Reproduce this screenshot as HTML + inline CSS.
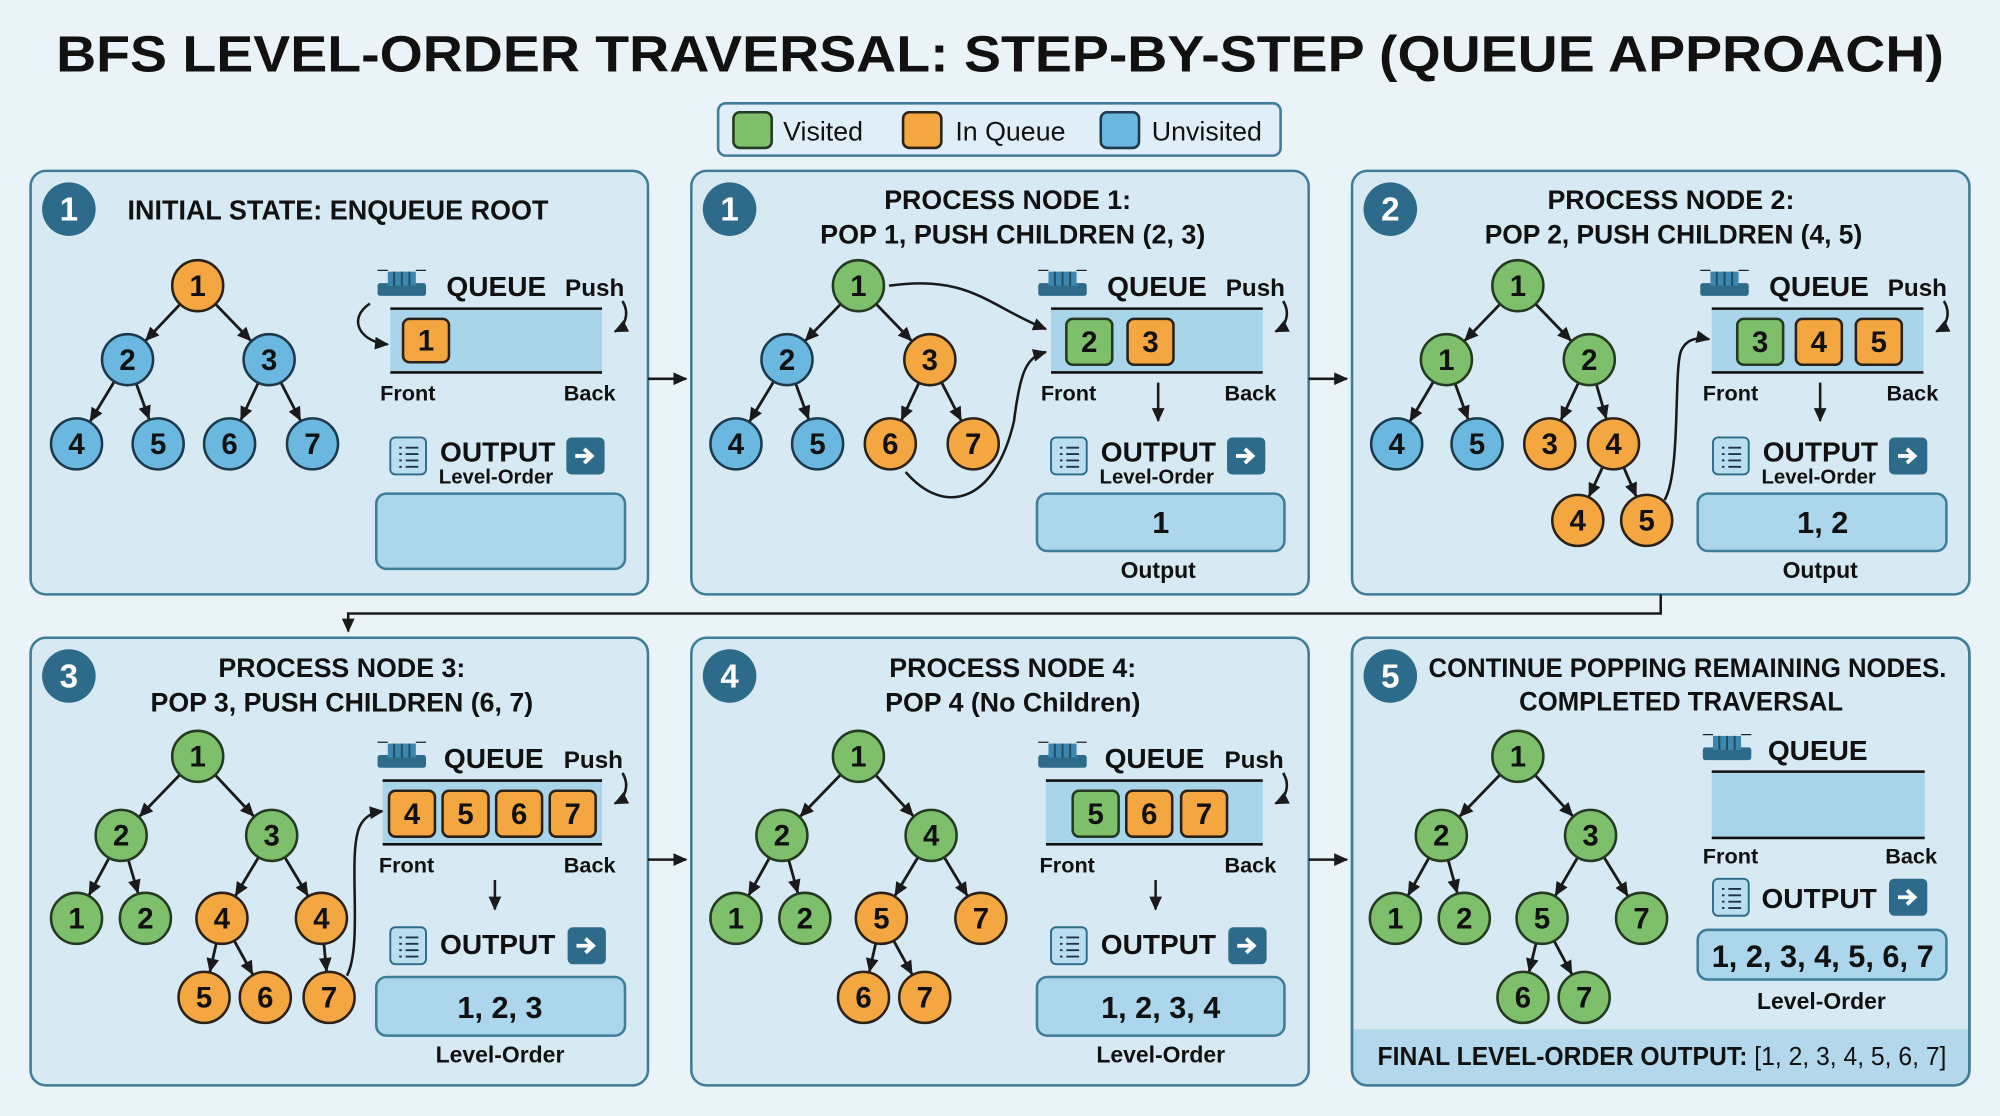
<!DOCTYPE html>
<html><head><meta charset="utf-8"><style>
html,body{margin:0;padding:0;background:#eaf3f8}
svg{display:block}
text{font-family:"Liberation Sans",sans-serif;fill:#111}
.b{font-weight:bold}
.g{fill:#7dbf6a;stroke:#243a22;stroke-width:2}
.o{fill:#f4a640;stroke:#2a2218;stroke-width:2}
.u{fill:#6ab7e0;stroke:#1c3a4c;stroke-width:2}
.nt{font-size:23px;font-weight:bold;text-anchor:middle}
.e path{stroke:#1a1a1a;stroke-width:2.2;fill:none;marker-end:url(#ah)}
.ln{stroke:#1a1a1a;stroke-width:2;fill:none;marker-end:url(#a2)}
.pn{fill:#d7eaf4;stroke:#3f7d98;stroke-width:2}
.qb{fill:#a9d5eb}
.ob{fill:#abd6eb;stroke:#3f7d98;stroke-width:2}
.bd{fill:#2e6a8a}
</style></head><body>
<svg width="2000" height="1116" viewBox="0 0 1568 875" preserveAspectRatio="none" xmlns="http://www.w3.org/2000/svg">
<defs>
<marker id="ah" markerUnits="userSpaceOnUse" markerWidth="12" markerHeight="12" refX="31" refY="5" orient="auto" overflow="visible"><path d="M0,0 L11,5 L0,10 z" fill="#1a1a1a"/></marker>
<marker id="a2" markerUnits="userSpaceOnUse" markerWidth="12" markerHeight="12" refX="10" refY="5" orient="auto" overflow="visible"><path d="M0,0 L11,5 L0,10 z" fill="#1a1a1a"/></marker>
<g id="qi"><rect x="0" y="12" width="38" height="10" rx="2" fill="#2e6a8a"/><rect x="8" y="3" width="22" height="11" fill="#3d86ad"/><path d="M13,3v11M19,3v11M25,3v11" stroke="#1d4d66" stroke-width="1.5"/><path d="M0,2h8M30,2h8" stroke="#222" stroke-width="1"/></g>
<g id="oi"><rect x="0" y="0" width="28" height="29" rx="4" fill="#b9def0" stroke="#2e6a8a" stroke-width="1.5"/><path d="M7,8h2M12,8h10M7,13h2M12,13h10M7,18h2M12,18h10M7,23h2M12,23h10" stroke="#234" stroke-width="1.5"/></g>
<g id="ab"><rect x="0" y="0" width="30" height="29" rx="4" fill="#2e6a8a"/><path d="M7,14.5h11M14,9l6,5.5l-6,5.5" stroke="#fff" stroke-width="3" fill="none"/></g>
</defs>
<rect width="1568" height="875" fill="#eaf3f8"/>
<text x="784" y="56" class="b" font-size="40" text-anchor="middle" textLength="1480" lengthAdjust="spacingAndGlyphs">BFS LEVEL-ORDER TRAVERSAL: STEP-BY-STEP (QUEUE APPROACH)</text>
<!-- legend -->
<rect x="563" y="81" width="441" height="41" rx="6" fill="#e0eff7" stroke="#3f7d98" stroke-width="2"/>
<rect x="575" y="88" width="30" height="28" rx="5" class="g"/><text x="614" y="110" font-size="21">Visited</text>
<rect x="708" y="88" width="30" height="28" rx="5" class="o"/><text x="749" y="110" font-size="21">In Queue</text>
<rect x="863" y="88" width="30" height="28" rx="5" class="u"/><text x="903" y="110" font-size="21">Unvisited</text>
<!-- panels -->
<rect x="24" y="134" width="484" height="332" rx="12" class="pn"/>
<rect x="542" y="134" width="484" height="332" rx="12" class="pn"/>
<rect x="1060" y="134" width="484" height="332" rx="12" class="pn"/>
<rect x="24" y="500" width="484" height="351" rx="12" class="pn"/>
<rect x="542" y="500" width="484" height="351" rx="12" class="pn"/>
<rect x="1060" y="500" width="484" height="351" rx="12" class="pn"/>
<!-- between arrows -->
<path d="M508,297H538" class="ln"/><path d="M1026,297H1056" class="ln"/>
<path d="M508,674H538" class="ln"/><path d="M1026,674H1056" class="ln"/>
<path d="M1302,466V481H273V495" class="ln"/>

<!-- PANEL 1 -->
<circle cx="54" cy="164" r="21" class="bd"/><text x="54" y="173" style="fill:#fff" font-size="26" text-anchor="middle" class="b">1</text>
<text x="100" y="172" class="b" font-size="22" textLength="330" lengthAdjust="spacingAndGlyphs">INITIAL STATE: ENQUEUE ROOT</text>
<g class="e"><path d="M155,224L100,282"/><path d="M155,224L211,282"/><path d="M100,282L60,348"/><path d="M100,282L124,348"/><path d="M211,282L180,348"/><path d="M211,282L245,348"/></g>
<circle cx="155" cy="224" r="20" class="o"/><text x="155" y="232" class="nt">1</text>
<circle cx="100" cy="282" r="20" class="u"/><text x="100" y="290" class="nt">2</text>
<circle cx="211" cy="282" r="20" class="u"/><text x="211" y="290" class="nt">3</text>
<circle cx="60" cy="348" r="20" class="u"/><text x="60" y="356" class="nt">4</text>
<circle cx="124" cy="348" r="20" class="u"/><text x="124" y="356" class="nt">5</text>
<circle cx="180" cy="348" r="20" class="u"/><text x="180" y="356" class="nt">6</text>
<circle cx="245" cy="348" r="20" class="u"/><text x="245" y="356" class="nt">7</text>
<use href="#qi" x="296" y="210"/>
<text x="350" y="232" class="b" font-size="22">QUEUE</text><text x="443" y="232" class="b" font-size="19">Push</text>
<rect x="306" y="242" width="166" height="50" class="qb"/><path d="M306,242H472M306,292H472" stroke="#111" stroke-width="2"/>
<rect x="316" y="250" width="36" height="34" rx="5" class="o"/><text x="334" y="275" class="nt">1</text>
<path d="M290,238C272,250 282,268 304,270" class="ln"/><path d="M488,236C494,246 490,256 482,260" class="ln"/>
<text x="298" y="314" class="b" font-size="17">Front</text><text x="442" y="314" class="b" font-size="17">Back</text>
<use href="#oi" x="306" y="343"/>
<text x="345" y="362" class="b" font-size="22">OUTPUT</text><text x="344" y="379" class="b" font-size="16">Level-Order</text>
<use href="#ab" x="444" y="343"/>
<rect x="295" y="387" width="195" height="59" rx="8" class="ob"/>

<!-- PANEL 2 -->
<circle cx="572" cy="164" r="21" class="bd"/><text x="572" y="173" style="fill:#fff" font-size="26" text-anchor="middle" class="b">1</text>
<text x="790" y="164" class="b" font-size="21" text-anchor="middle">PROCESS NODE 1:</text>
<text x="794" y="191" class="b" font-size="21" text-anchor="middle" textLength="302" lengthAdjust="spacingAndGlyphs">POP 1, PUSH CHILDREN (2, 3)</text>
<g class="e"><path d="M673,224L617,282"/><path d="M673,224L729,282"/><path d="M617,282L577,348"/><path d="M617,282L641,348"/><path d="M729,282L698,348"/><path d="M729,282L763,348"/></g>
<path d="M697,224C760,215 775,240 820,258" class="ln"/>
<path d="M710,370C740,405 780,395 795,330C800,290 805,280 820,276" class="ln"/>
<circle cx="673" cy="224" r="20" class="g"/><text x="673" y="232" class="nt">1</text>
<circle cx="617" cy="282" r="20" class="u"/><text x="617" y="290" class="nt">2</text>
<circle cx="729" cy="282" r="20" class="o"/><text x="729" y="290" class="nt">3</text>
<circle cx="577" cy="348" r="20" class="u"/><text x="577" y="356" class="nt">4</text>
<circle cx="641" cy="348" r="20" class="u"/><text x="641" y="356" class="nt">5</text>
<circle cx="698" cy="348" r="20" class="o"/><text x="698" y="356" class="nt">6</text>
<circle cx="763" cy="348" r="20" class="o"/><text x="763" y="356" class="nt">7</text>
<use href="#qi" x="814" y="210"/>
<text x="868" y="232" class="b" font-size="22">QUEUE</text><text x="961" y="232" class="b" font-size="19">Push</text>
<rect x="824" y="242" width="166" height="50" class="qb"/><path d="M824,242H990M824,292H990" stroke="#111" stroke-width="2"/>
<rect x="836" y="250" width="36" height="36" rx="5" class="g"/><text x="854" y="276" class="nt">2</text>
<rect x="884" y="250" width="36" height="36" rx="5" class="o"/><text x="902" y="276" class="nt">3</text>
<path d="M1006,236C1012,246 1008,256 1000,260" class="ln"/>
<text x="816" y="314" class="b" font-size="17">Front</text><text x="960" y="314" class="b" font-size="17">Back</text>
<path d="M908,300V330" class="ln"/>
<use href="#oi" x="824" y="343"/>
<text x="863" y="362" class="b" font-size="22">OUTPUT</text><text x="862" y="379" class="b" font-size="16">Level-Order</text>
<use href="#ab" x="962" y="343"/>
<rect x="813" y="387" width="194" height="45" rx="8" class="ob"/>
<text x="910" y="418" class="b" font-size="24" text-anchor="middle">1</text>
<text x="908" y="453" class="b" font-size="18" text-anchor="middle">Output</text>

<!-- PANEL 3 -->
<circle cx="1090" cy="164" r="21" class="bd"/><text x="1090" y="173" style="fill:#fff" font-size="26" text-anchor="middle" class="b">2</text>
<text x="1310" y="164" class="b" font-size="21" text-anchor="middle">PROCESS NODE 2:</text>
<text x="1312" y="191" class="b" font-size="21" text-anchor="middle" textLength="296" lengthAdjust="spacingAndGlyphs">POP 2, PUSH CHILDREN (4, 5)</text>
<g class="e"><path d="M1190,224L1134,282"/><path d="M1190,224L1246,282"/><path d="M1134,282L1095,348"/><path d="M1134,282L1158,348"/><path d="M1246,282L1215,348"/><path d="M1246,282L1265,348"/><path d="M1265,348L1237,408"/><path d="M1265,348L1291,408"/></g>
<path d="M1305,392C1318,370 1312,290 1318,275C1322,266 1330,264 1340,266" class="ln"/>
<circle cx="1190" cy="224" r="20" class="g"/><text x="1190" y="232" class="nt">1</text>
<circle cx="1134" cy="282" r="20" class="g"/><text x="1134" y="290" class="nt">1</text>
<circle cx="1246" cy="282" r="20" class="g"/><text x="1246" y="290" class="nt">2</text>
<circle cx="1095" cy="348" r="20" class="u"/><text x="1095" y="356" class="nt">4</text>
<circle cx="1158" cy="348" r="20" class="u"/><text x="1158" y="356" class="nt">5</text>
<circle cx="1215" cy="348" r="20" class="o"/><text x="1215" y="356" class="nt">3</text>
<circle cx="1265" cy="348" r="20" class="o"/><text x="1265" y="356" class="nt">4</text>
<circle cx="1237" cy="408" r="20" class="o"/><text x="1237" y="416" class="nt">4</text>
<circle cx="1291" cy="408" r="20" class="o"/><text x="1291" y="416" class="nt">5</text>
<use href="#qi" x="1333" y="210"/>
<text x="1387" y="232" class="b" font-size="22">QUEUE</text><text x="1480" y="232" class="b" font-size="19">Push</text>
<rect x="1342" y="242" width="166" height="50" class="qb"/><path d="M1342,242H1508M1342,292H1508" stroke="#111" stroke-width="2"/>
<rect x="1362" y="250" width="36" height="36" rx="5" class="g"/><text x="1380" y="276" class="nt">3</text>
<rect x="1408" y="250" width="36" height="36" rx="5" class="o"/><text x="1426" y="276" class="nt">4</text>
<rect x="1455" y="250" width="36" height="36" rx="5" class="o"/><text x="1473" y="276" class="nt">5</text>
<path d="M1524,236C1530,246 1526,256 1518,260" class="ln"/>
<text x="1335" y="314" class="b" font-size="17">Front</text><text x="1479" y="314" class="b" font-size="17">Back</text>
<path d="M1427,300V330" class="ln"/>
<use href="#oi" x="1343" y="343"/>
<text x="1382" y="362" class="b" font-size="22">OUTPUT</text><text x="1381" y="379" class="b" font-size="16">Level-Order</text>
<use href="#ab" x="1481" y="343"/>
<rect x="1331" y="387" width="195" height="45" rx="8" class="ob"/>
<text x="1429" y="418" class="b" font-size="24" text-anchor="middle">1, 2</text>
<text x="1427" y="453" class="b" font-size="18" text-anchor="middle">Output</text>

<!-- PANEL 4 -->
<circle cx="54" cy="530" r="21" class="bd"/><text x="54" y="539" style="fill:#fff" font-size="26" text-anchor="middle" class="b">3</text>
<text x="268" y="531" class="b" font-size="21" text-anchor="middle">PROCESS NODE 3:</text>
<text x="268" y="558" class="b" font-size="21" text-anchor="middle" textLength="300" lengthAdjust="spacingAndGlyphs">POP 3, PUSH CHILDREN (6, 7)</text>
<g class="e"><path d="M155,593L95,655"/><path d="M155,593L213,655"/><path d="M95,655L60,720"/><path d="M95,655L114,720"/><path d="M213,655L174,720"/><path d="M213,655L252,720"/><path d="M174,720L160,782"/><path d="M174,720L208,782"/><path d="M252,720L258,782"/></g>
<path d="M272,765C285,740 272,670 282,648C286,640 292,637 300,636" class="ln"/>
<circle cx="155" cy="593" r="20" class="g"/><text x="155" y="601" class="nt">1</text>
<circle cx="95" cy="655" r="20" class="g"/><text x="95" y="663" class="nt">2</text>
<circle cx="213" cy="655" r="20" class="g"/><text x="213" y="663" class="nt">3</text>
<circle cx="60" cy="720" r="20" class="g"/><text x="60" y="728" class="nt">1</text>
<circle cx="114" cy="720" r="20" class="g"/><text x="114" y="728" class="nt">2</text>
<circle cx="174" cy="720" r="20" class="o"/><text x="174" y="728" class="nt">4</text>
<circle cx="252" cy="720" r="20" class="o"/><text x="252" y="728" class="nt">4</text>
<circle cx="160" cy="782" r="20" class="o"/><text x="160" y="790" class="nt">5</text>
<circle cx="208" cy="782" r="20" class="o"/><text x="208" y="790" class="nt">6</text>
<circle cx="258" cy="782" r="20" class="o"/><text x="258" y="790" class="nt">7</text>
<use href="#qi" x="296" y="580"/>
<text x="348" y="602" class="b" font-size="22">QUEUE</text><text x="442" y="602" class="b" font-size="19">Push</text>
<rect x="300" y="612" width="172" height="50" class="qb"/><path d="M300,612H472M300,662H472" stroke="#111" stroke-width="2"/>
<rect x="305" y="620" width="36" height="36" rx="5" class="o"/><text x="323" y="646" class="nt">4</text>
<rect x="347" y="620" width="36" height="36" rx="5" class="o"/><text x="365" y="646" class="nt">5</text>
<rect x="389" y="620" width="36" height="36" rx="5" class="o"/><text x="407" y="646" class="nt">6</text>
<rect x="431" y="620" width="36" height="36" rx="5" class="o"/><text x="449" y="646" class="nt">7</text>
<path d="M488,606C494,616 490,626 482,630" class="ln"/>
<text x="297" y="684" class="b" font-size="17">Front</text><text x="442" y="684" class="b" font-size="17">Back</text>
<path d="M388,690V713" class="ln"/>
<use href="#oi" x="306" y="727"/>
<text x="345" y="748" class="b" font-size="22">OUTPUT</text>
<use href="#ab" x="445" y="727"/>
<rect x="295" y="766" width="195" height="46" rx="8" class="ob"/>
<text x="392" y="798" class="b" font-size="24" text-anchor="middle">1, 2, 3</text>
<text x="392" y="833" class="b" font-size="18" text-anchor="middle">Level-Order</text>

<!-- PANEL 5 -->
<circle cx="572" cy="530" r="21" class="bd"/><text x="572" y="539" style="fill:#fff" font-size="26" text-anchor="middle" class="b">4</text>
<text x="794" y="531" class="b" font-size="21" text-anchor="middle">PROCESS NODE 4:</text>
<text x="794" y="558" class="b" font-size="21" text-anchor="middle">POP 4 (No Children)</text>
<g class="e"><path d="M673,593L613,655"/><path d="M673,593L730,655"/><path d="M613,655L577,720"/><path d="M613,655L631,720"/><path d="M730,655L691,720"/><path d="M730,655L769,720"/><path d="M691,720L677,782"/><path d="M691,720L725,782"/></g>
<circle cx="673" cy="593" r="20" class="g"/><text x="673" y="601" class="nt">1</text>
<circle cx="613" cy="655" r="20" class="g"/><text x="613" y="663" class="nt">2</text>
<circle cx="730" cy="655" r="20" class="g"/><text x="730" y="663" class="nt">4</text>
<circle cx="577" cy="720" r="20" class="g"/><text x="577" y="728" class="nt">1</text>
<circle cx="631" cy="720" r="20" class="g"/><text x="631" y="728" class="nt">2</text>
<circle cx="691" cy="720" r="20" class="o"/><text x="691" y="728" class="nt">5</text>
<circle cx="769" cy="720" r="20" class="o"/><text x="769" y="728" class="nt">7</text>
<circle cx="677" cy="782" r="20" class="o"/><text x="677" y="790" class="nt">6</text>
<circle cx="725" cy="782" r="20" class="o"/><text x="725" y="790" class="nt">7</text>
<use href="#qi" x="814" y="580"/>
<text x="866" y="602" class="b" font-size="22">QUEUE</text><text x="960" y="602" class="b" font-size="19">Push</text>
<rect x="820" y="612" width="170" height="50" class="qb"/><path d="M820,612H990M820,662H990" stroke="#111" stroke-width="2"/>
<rect x="841" y="620" width="36" height="36" rx="5" class="g"/><text x="859" y="646" class="nt">5</text>
<rect x="883" y="620" width="36" height="36" rx="5" class="o"/><text x="901" y="646" class="nt">6</text>
<rect x="926" y="620" width="36" height="36" rx="5" class="o"/><text x="944" y="646" class="nt">7</text>
<path d="M1006,606C1012,616 1008,626 1000,630" class="ln"/>
<text x="815" y="684" class="b" font-size="17">Front</text><text x="960" y="684" class="b" font-size="17">Back</text>
<path d="M906,690V713" class="ln"/>
<use href="#oi" x="824" y="727"/>
<text x="863" y="748" class="b" font-size="22">OUTPUT</text>
<use href="#ab" x="963" y="727"/>
<rect x="813" y="766" width="194" height="46" rx="8" class="ob"/>
<text x="910" y="798" class="b" font-size="24" text-anchor="middle">1, 2, 3, 4</text>
<text x="910" y="833" class="b" font-size="18" text-anchor="middle">Level-Order</text>

<!-- PANEL 6 -->
<circle cx="1090" cy="530" r="21" class="bd"/><text x="1090" y="539" style="fill:#fff" font-size="26" text-anchor="middle" class="b">5</text>
<text x="1323" y="531" class="b" font-size="21" text-anchor="middle" textLength="406" lengthAdjust="spacingAndGlyphs">CONTINUE POPPING REMAINING NODES.</text>
<text x="1318" y="557" class="b" font-size="21" text-anchor="middle" textLength="254" lengthAdjust="spacingAndGlyphs">COMPLETED TRAVERSAL</text>
<g class="e"><path d="M1190,593L1130,655"/><path d="M1190,593L1247,655"/><path d="M1130,655L1094,720"/><path d="M1130,655L1148,720"/><path d="M1247,655L1209,720"/><path d="M1247,655L1287,720"/><path d="M1209,720L1194,782"/><path d="M1209,720L1242,782"/></g>
<circle cx="1190" cy="593" r="20" class="g"/><text x="1190" y="601" class="nt">1</text>
<circle cx="1130" cy="655" r="20" class="g"/><text x="1130" y="663" class="nt">2</text>
<circle cx="1247" cy="655" r="20" class="g"/><text x="1247" y="663" class="nt">3</text>
<circle cx="1094" cy="720" r="20" class="g"/><text x="1094" y="728" class="nt">1</text>
<circle cx="1148" cy="720" r="20" class="g"/><text x="1148" y="728" class="nt">2</text>
<circle cx="1209" cy="720" r="20" class="g"/><text x="1209" y="728" class="nt">5</text>
<circle cx="1287" cy="720" r="20" class="g"/><text x="1287" y="728" class="nt">7</text>
<circle cx="1194" cy="782" r="20" class="g"/><text x="1194" y="790" class="nt">6</text>
<circle cx="1242" cy="782" r="20" class="g"/><text x="1242" y="790" class="nt">7</text>
<use href="#qi" x="1335" y="574"/>
<text x="1386" y="596" class="b" font-size="22">QUEUE</text>
<rect x="1342" y="605" width="167" height="52" class="qb"/><path d="M1342,605H1509M1342,657H1509" stroke="#111" stroke-width="2"/>
<text x="1335" y="677" class="b" font-size="17">Front</text><text x="1478" y="677" class="b" font-size="17">Back</text>
<use href="#oi" x="1343" y="689"/>
<text x="1381" y="712" class="b" font-size="22">OUTPUT</text>
<use href="#ab" x="1481" y="689"/>
<rect x="1331" y="729" width="195" height="39" rx="8" class="ob"/>
<text x="1429" y="758" class="b" font-size="25" text-anchor="middle" textLength="174" lengthAdjust="spacingAndGlyphs">1, 2, 3, 4, 5, 6, 7</text>
<text x="1428" y="791" class="b" font-size="18" text-anchor="middle">Level-Order</text>
<path d="M1061,807H1543V839A11,11 0 0 1 1532,850H1072A11,11 0 0 1 1061,839Z" fill="#b3d8ec"/>
<text x="1080" y="835" font-size="20" textLength="446" lengthAdjust="spacingAndGlyphs"><tspan class="b">FINAL LEVEL-ORDER OUTPUT:</tspan> [1, 2, 3, 4, 5, 6, 7]</text>
<rect x="1060" y="500" width="484" height="351" rx="12" fill="none" stroke="#3f7d98" stroke-width="2"/>
</svg>
</body></html>
